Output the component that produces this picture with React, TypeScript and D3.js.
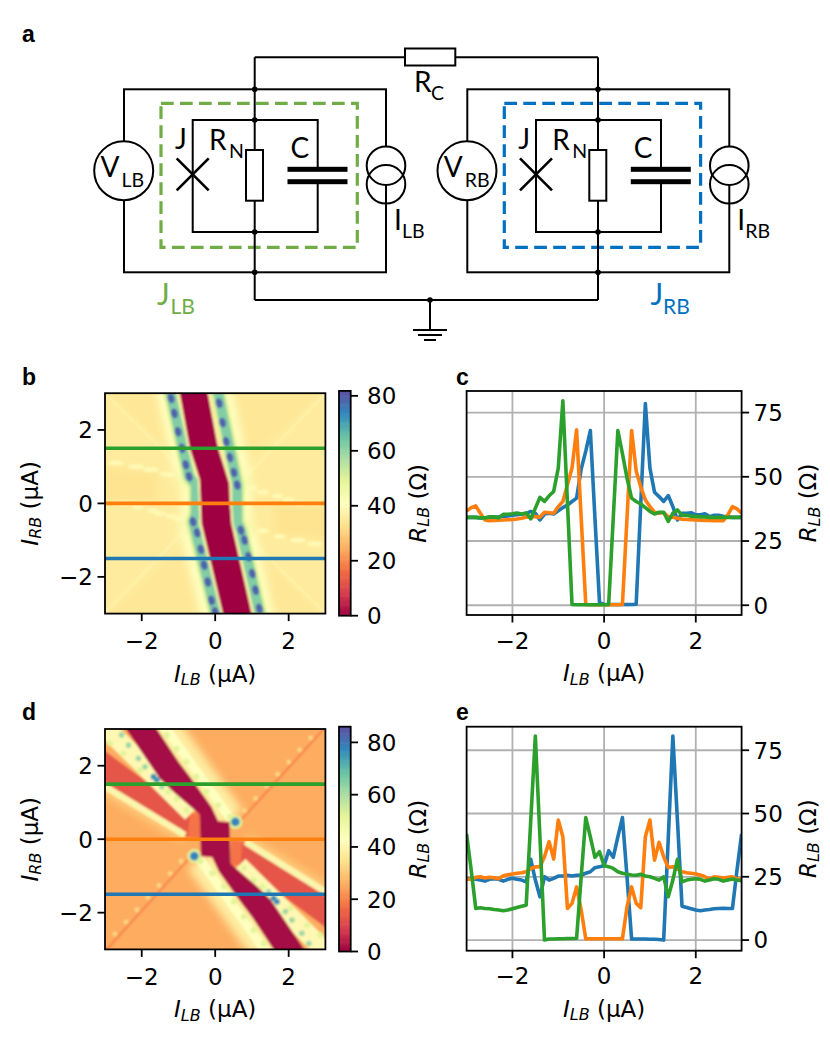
import React from "react";
import * as d3 from "d3";

type Pt = [number, number];

// sweep axis of the line cuts, uA
const sweep = d3.range(61).map((i) => -3 + i * 0.1);
const currentTicks = [-2, 0, 2];
const cutLevels = [
  { level: -1.5, color: "#1f77b4" },
  { level: 0, color: "#ff7f0e" },
  { level: 1.5, color: "#2ca02c" },
];
const cbTicks = [0, 20, 40, 60, 80];
const cutTicks = [0, 25, 50, 75];

// panel c, line cuts at I_RB = -1.5, 0, 1.5
const cutC_blue = [34.2,34.2,34.2,34,34,34.2,34.3,34.4,34.6,34.8,35,35.2,35.4,35.7,36.5,35.8,33.2,35.5,35.8,35.5,36.8,38,39,40.4,41.7,53,60,68,34,1,
  0.3,0.3,0.3,0.3,0.3,0.3,0.3,0.4,39.5,78.5,53.4,44,42.3,40.4,42.7,38.4,33.2,35.8,35.8,36,35.2,35.2,35.6,34.5,35,35,34.6,34.4,34.2,34.2,34.2];
const cutC_orange = [36.7,38,38.7,35.8,33.2,32.9,33,33.1,33.2,33.3,33.4,33.6,33.9,34.3,34.5,34.5,34.3,36.2,36,35.8,38.4,40.4,46.9,53.4,68.3,34,0.3,0.2,0.2,0.2,
  0.2,0.2,0.2,0.2,0.3,34,68,52.3,46,41,38.4,36.2,35.8,36,34.5,34.3,33.9,33.5,33.4,33.3,33.2,33.1,33,33,32.9,32.9,32.9,35.2,38.4,37.5,35.8];
const cutC_green = [34.2,34.2,34.2,34,34,34.4,34.4,34,35.4,35.4,35.6,35.9,35.5,35.9,33.6,37.8,42,40.4,42.6,44.3,53.4,79.6,40,0.3,0.2,0.2,0.2,0.2,0.2,0.2,
  0.2,0.3,34,68,59,49.5,41.7,40.4,39.4,38,36.5,35.5,36.2,36.2,32.6,35.8,37.1,35,35,34.6,34.6,34.4,34.4,34.2,34.2,34.2,34.2,34.2,34.2,34.2,34.2];

// panel e
const cutE_blue = [24,24.2,24,23.7,23.3,24,24.2,24,23.3,24,24.4,24,23.7,23,31.9,23.7,17.1,25,23.7,24.4,25.3,25.3,25.6,25.3,25.6,25.7,26.4,27,28.6,29,
  29.4,35.3,32.7,40.8,48.4,25,0.4,0.4,0.4,0.4,0.3,0.3,0.2,0,40.2,80.6,47.4,13.4,12.9,12.4,11.9,11.6,11.9,12.1,12.4,12.5,12.6,12.5,12.5,27.7,41.9];
const cutE_orange = [24,24,24.8,25,24.5,24.8,24.6,24.2,25.4,25.8,26.1,26.4,26.6,27,28.3,28.9,29,32.9,38.9,32,47.4,40.8,12.5,14.5,21,11.9,0.5,0.5,0.5,0.5,
  0.5,0.5,0.5,0.5,0.5,13.2,21,14.5,12.8,40.8,47.4,31.6,38.6,32.9,28.7,29,28.1,27,26.6,26.4,26.1,25.7,25,24.2,25,24.8,24.5,24.8,25,24.2,24];
const cutE_green = [41.9,27.7,12.5,12.8,12.5,12.4,12.1,11.9,11.6,11.9,12.4,12.9,13.4,13.8,47.4,80.6,40.8,0,0.4,0.4,0.5,0.5,0.6,0.6,0.7,25,48.4,40.8,32.7,34.9,
  29.4,29,28.3,27,26.4,26,25.7,25.6,26,25.3,25,24.4,23.7,25,17.1,23.7,31.9,23,23.7,24,24.2,24,23.3,23.7,24.2,24,23.3,23.7,24.1,23.7,23.4];

// panel b map, region outlines in (I_LB, I_RB)
const everywhere: Pt[] = [[-3.4,3.4],[3.4,3.4],[3.4,-3.4],[-3.4,-3.4]];
const bLeftPatch: Pt[] = [[-3.4,1],[-1.6,0.85],[-1.6,0.05],[-3.4,0.1]];
const bRightPatch: Pt[] = [[1.6,-0.05],[3.4,-0.1],[3.4,-1],[1.6,-0.85]];
const bCornerTop: Pt[] = [[-3.4,3.4],[3.4,3.4],[0.4,0.8],[-0.6,0.8]];
const bCornerBottom: Pt[] = [[-3.4,-3.4],[3.4,-3.4],[0.6,-0.8],[-0.4,-0.8]];
const bDark: Pt[] = [[-1.02,3.3],[-0.69,1.5],[-0.42,0.65],[-0.39,0],[-0.37,-0.55],[0.28,-3.3],[1.06,-3.3],[0.44,-0.55],[0.4,0],[0.38,0.55],[0.08,1.5],[-0.26,3.3]];
const bRidgeLeft: Pt[] = [[-1.28,3.3],[-0.71,0.73],[-0.53,0.5],[-0.53,-0.3],[-0.6,-0.5],[0.09,-3.3]];
const bRidgeRight: Pt[] = [[0.02,3.3],[0.6,0.5],[0.6,-0.5],[0.7,-0.73],[1.28,-3.3]];
const bHaloLeft: Pt[] = [[-1.45,3.3],[-0.9,0.8],[-0.72,0.4],[-0.72,-0.3],[-0.8,-0.6],[-0.12,-3.3]];
const bHaloRight: Pt[] = [[0.2,3.3],[0.8,0.6],[0.78,0.2],[0.78,-0.4],[0.9,-0.8],[1.45,-3.3]];
const bDiagA: Pt[] = [[0.6,0.5],[3.3,3.3]];
const bDiagB: Pt[] = [[-0.6,-0.5],[-3.3,-3.3]];
const bDiagC: Pt[] = [[-0.7,0.73],[-3.3,3.3]];
const bDiagD: Pt[] = [[0.7,-0.73],[3.3,-3.3]];
const bBeads: Pt[] = [[-1.2,2.86],[-1.11,2.45],[-1.01,1.95],[-0.9,1.5],[-0.8,1.05],[-0.71,0.73],[-0.6,-0.5],[-0.49,-0.8],[-0.39,-1.25],[-0.3,-1.68],[-0.2,-2.14],[-0.1,-2.64],[0,-2.95],
  [0.11,2.73],[0.2,2.2],[0.3,1.68],[0.4,1.25],[0.51,0.84],[0.6,0.5],[0.7,-0.73],[0.8,-1],[0.91,-1.45],[1.01,-1.91],[1.1,-2.36],[1.2,-2.86]];
const bTrail: Pt[] = [[-2.75,1.1],[-2.65,1.1],[-2.2,1],[-2.1,1],[-1.8,0.92],[-1.7,0.92],[-1.35,0.8],[-1.25,0.78],
  [-2.5,0],[-2.1,-0.1],[-1.7,-0.2],[-1.5,-0.28],[-1.2,-0.35],[-1,-0.42],
  [1,0.42],[1.3,0.3],[1.7,0.2],[2,0.1],[2.3,0],
  [1.3,-0.75],[1.75,-0.9],[2.2,-1],[2.3,-1],[2.75,-1.1],[2.65,-1.1]];
const bStars: Pt[] = [[0.78,0.55],[-0.78,-0.55],[-0.85,0.6],[0.85,-0.65]];

// panel d map
const dLeftRed: Pt[] = [[-3.3,2.62],[-0.69,0.7],[-0.42,0.68],[-0.42,0.02],[-0.78,0.06],[-3.3,1.65]];
const dRightRed: Pt[] = [[3.3,-2.62],[0.69,-0.7],[0.44,-0.68],[0.44,-0.02],[0.78,-0.06],[3.3,-1.65]];
const dLeftStrip: Pt[] = [[-0.69,0.72],[-0.42,0.72],[-0.42,0.02],[-0.74,0.05]];
const dRightStrip: Pt[] = [[0.69,-0.72],[0.44,-0.72],[0.44,-0.02],[0.74,-0.05]];
const dDark: Pt[] = [[-2.63,3.3],[-2.43,3],[-1.51,1.65],[-1.14,1.29],[-0.42,0.67],[-0.39,-0.46],[-0.08,-0.49],[0.1,-0.88],[0.69,-1.7],[1,-2.11],[1.59,-3],[1.8,-3.3],
  [2.63,-3.3],[2.43,-3],[1.51,-1.65],[1.14,-1.29],[0.42,-0.67],[0.39,0.46],[0.08,0.49],[-0.1,0.88],[-0.69,1.7],[-1,2.11],[-1.59,3],[-1.8,3.3]];
const dBandA: Pt[] = [[-3.2,3.25],[-0.64,0.72]];
const dBandF: Pt[] = [[3.2,-3.25],[0.64,-0.72]];
const dBandB: Pt[] = [[-1.55,3.3],[0.42,0.55]];
const dBandD: Pt[] = [[1.55,-3.3],[-0.42,-0.55]];
const dBandC: Pt[] = [[-3.3,1.62],[-0.82,0.11]];
const dBandE: Pt[] = [[3.3,-1.62],[0.82,-0.07]];
const dThinA: Pt[] = [[0.62,0.43],[3.3,3.38]];
const dThinB: Pt[] = [[-0.62,-0.43],[-3.3,-3.38]];
const dPaleBeads: Pt[] = [[-1.32,2.84],[-1.05,2.47],[-0.78,2.11],[-0.51,1.7],[-0.24,1.29],[0.08,0.93],[0.4,0.61],
  [1.32,-2.84],[1.05,-2.47],[0.78,-2.11],[0.51,-1.7],[0.24,-1.29],[-0.08,-0.93],[-0.4,-0.61],
  [-2.86,2.61],[-2.5,2.34],[-2.05,1.88],[-1.28,1.29],[-1.05,1.11],[-0.78,0.79],
  [2.86,-2.61],[2.5,-2.34],[2.05,-1.88],[1.28,-1.29],[1.05,-1.11],[0.78,-0.79]];
const dTealBeads: Pt[] = [[-2.55,2.84],[-2.36,2.56],[-2.09,2.2],[-1.91,1.97],[-1.45,1.43],
  [2.55,-2.84],[2.36,-2.56],[2.09,-2.2],[1.91,-1.97],[1.45,-1.43]];
const dBlueBeads: Pt[] = [[-1.68,1.7],[-1.59,1.61],[1.59,-1.61],[1.68,-1.7]];
const dBlobs: Pt[] = [[0.55,0.47],[-0.57,-0.46]];
const dDiagBeads: Pt[] = [[0.8,0.78],[1.1,1.11],[1.4,1.44],[1.7,1.77],[2,2.1],[2.3,2.43],[2.6,2.76],
  [-0.93,-0.6],[-1.23,-0.93],[-1.53,-1.26],[-1.83,-1.59],[-2.13,-1.92],[-2.43,-2.25],[-2.73,-2.58]];
const dEdgeBeads: Pt[] = [[-2.6,1.19],[-2.2,0.95],[-1.8,0.7],[-1.4,0.46],[-1,0.22],
  [2.6,-1.18],[2.2,-0.93],[1.8,-0.68],[1.4,-0.43],[1,-0.18]];

const spectral = d3.piecewise(d3.interpolateRgb, d3.schemeSpectral[11]);
const mathFont = "DejaVu Sans";
const ink = "#000";
const axisW = 1.8;
const FS = 23;

function SubLabel({ main, sub, tail, x, y, rotate, anchor = "middle" }: { main: string; sub: string; tail: string; x: number; y: number; rotate?: boolean; anchor?: string }) {
  return (
    <text x={x} y={y} fontFamily={mathFont} fontSize={FS} textAnchor={anchor} fill={ink}
      transform={rotate ? `rotate(-90 ${x} ${y})` : undefined}>
      <tspan fontStyle="italic">{main}</tspan>
      <tspan fontStyle="italic" fontSize={16} dy={3.5}>{sub}</tspan>
      <tspan dy={-3.5}>{" " + tail}</tspan>
    </text>
  );
}

function fmt(v: number) {
  return v < 0 ? `\u2212${Math.abs(v)}` : `${v}`;
}

function MapPanel({ top, rMax, id, children }: { top: number; rMax: number; id: string; children: (x: d3.ScaleLinear<number, number>, y: d3.ScaleLinear<number, number>, c: (r: number) => string) => React.ReactNode }) {
  const left = 105;
  const size = 220.4;
  const x = d3.scaleLinear().domain([-3, 3]).range([left, left + size]);
  const y = d3.scaleLinear().domain([-3, 3]).range([top + size, top]);
  const color = (r: number) => spectral(r / rMax);
  const cbY = d3.scaleLinear().domain([0, rMax]).range([top + 222.5, top - 2.3]);
  const cbSteps = d3.range(0, rMax, rMax / 200);
  return (
    <g>
      <clipPath id={id}><rect x={left} y={top} width={size} height={size} /></clipPath>
      <g clipPath={`url(#${id})`}>
        <g filter="url(#soft)">{children(x, y, color)}</g>
        {cutLevels.map((c) => (
          <line key={c.level} x1={left} x2={left + size} y1={y(c.level)} y2={y(c.level)} stroke={c.color} strokeWidth={3.6} />
        ))}
      </g>
      <rect x={left} y={top} width={size} height={size} fill="none" stroke={ink} strokeWidth={axisW} />
      {currentTicks.map((t) => (
        <g key={t}>
          <line x1={x(t)} x2={x(t)} y1={top + size} y2={top + size + 7.5} stroke={ink} strokeWidth={axisW} />
          <text x={x(t)} y={top + size + 35.5} textAnchor="middle" fontFamily={mathFont} fontSize={FS}>{fmt(t)}</text>
          <line x1={left - 7.5} x2={left} y1={y(t)} y2={y(t)} stroke={ink} strokeWidth={axisW} />
          <text x={left - 12} y={y(t) + 8.3} textAnchor="end" fontFamily={mathFont} fontSize={FS}>{fmt(t)}</text>
        </g>
      ))}
      <SubLabel main="I" sub="LB" tail="(µA)" x={left + size / 2} y={top + size + 68} />
      <SubLabel main="I" sub="RB" tail="(µA)" x={38} y={top + size / 2} rotate />
      {cbSteps.map((r) => (
        <rect key={r} x={339} width={11.7} y={cbY(r + rMax / 200) - 0.3} height={cbY(r) - cbY(r + rMax / 200) + 0.6} fill={color(r + rMax / 400)} />
      ))}
      <rect x={339} width={11.7} y={cbY(rMax)} height={cbY(0) - cbY(rMax)} fill="none" stroke={ink} strokeWidth={axisW} />
      {cbTicks.map((t) => (
        <g key={t}>
          <line x1={350.7} x2={358} y1={cbY(t)} y2={cbY(t)} stroke={ink} strokeWidth={axisW} />
          <text x={367} y={cbY(t) + 8.3} fontFamily={mathFont} fontSize={FS}>{t}</text>
        </g>
      ))}
      <SubLabel main="R" sub="LB" tail="(Ω)" x={426} y={top + size / 2} rotate />
    </g>
  );
}

function PanelB(x: d3.ScaleLinear<number, number>, y: d3.ScaleLinear<number, number>, c: (r: number) => string) {
  const path = d3.line<Pt>().x((d) => x(d[0])).y((d) => y(d[1]));
  const fills: [Pt[], number][] = [[everywhere, 35.6], [bCornerTop, 34.6], [bCornerBottom, 34.6], [bLeftPatch, 33.5], [bRightPatch, 33.5]];
  return (
    <>
      <g filter="url(#wide)">{fills.map(([pts, r], i) => <path key={i} d={path(pts) + "Z"} fill={c(r)} />)}</g>
      {[bDiagA, bDiagB, bDiagC, bDiagD].map((pts, i) => <path key={i} d={path(pts) || ""} fill="none" stroke={c(37.5)} strokeWidth={2.5} />)}
      {bTrail.map((p, i) => <ellipse key={i} cx={x(p[0])} cy={y(p[1])} rx={6} ry={2.6} fill={c(39)} />)}
      <g filter="url(#wide)">
        {[bHaloLeft, bHaloRight].map((pts, i) => <path key={i} d={path(pts) || ""} fill="none" stroke={c(41)} strokeWidth={15} strokeLinejoin="round" />)}
        {bStars.map((p, i) => <circle key={i} cx={x(p[0])} cy={y(p[1])} r={8} fill={c(44)} />)}
      </g>
      {[bRidgeLeft, bRidgeRight].map((pts, i) => <path key={i} d={path(pts) || ""} fill="none" stroke={c(50)} strokeWidth={15} strokeLinejoin="round" />)}
      {[bRidgeLeft, bRidgeRight].map((pts, i) => <path key={i} d={path(pts) || ""} fill="none" stroke={c(62)} strokeWidth={10} strokeLinejoin="round" />)}
      {bBeads.map((p, i) => <ellipse key={i} cx={x(p[0])} cy={y(p[1])} rx={3.4} ry={5} fill={c(79)} transform={`rotate(-15 ${x(p[0])} ${y(p[1])})`} />)}
      <path d={path(bDark) + "Z"} fill={c(0)} stroke={c(38)} strokeWidth={4} strokeLinejoin="round" />
      <path d={path(bDark) + "Z"} fill={c(0)} />
    </>
  );
}

function PanelD(x: d3.ScaleLinear<number, number>, y: d3.ScaleLinear<number, number>, c: (r: number) => string) {
  const path = d3.line<Pt>().x((d) => x(d[0])).y((d) => y(d[1]));
  return (
    <>
      <path d={path(everywhere) + "Z"} fill={c(25.5)} />
      <g filter="url(#wide)">
        {[dBandB, dBandD].map((pts, i) => <path key={i} d={path(pts) || ""} fill="none" stroke={c(38)} strokeWidth={30} />)}
        {[dBandC, dBandE].map((pts, i) => <path key={i} d={path(pts) || ""} fill="none" stroke={c(31)} strokeWidth={16} />)}
      </g>
      {[dBandB, dBandD].map((pts, i) => <path key={i} d={path(pts) || ""} fill="none" stroke={c(43)} strokeWidth={9} />)}
      {[dLeftRed, dRightRed].map((pts, i) => <path key={i} d={path(pts) + "Z"} fill={c(13)} />)}
      {[dLeftStrip, dRightStrip].map((pts, i) => <path key={i} d={path(pts) + "Z"} fill={c(18)} />)}
      {[dBandC, dBandE].map((pts, i) => <path key={i} d={path(pts) || ""} fill="none" stroke={c(40)} strokeWidth={6.5} />)}
      {[dBandA, dBandF].map((pts, i) => <path key={i} d={path(pts) || ""} fill="none" stroke={c(41)} strokeWidth={19} />)}
      {[dThinA, dThinB].map((pts, i) => <path key={i} d={path(pts) || ""} fill="none" stroke={c(19)} strokeWidth={1.8} />)}
      {dDiagBeads.map((p, i) => <circle key={i} cx={x(p[0])} cy={y(p[1])} r={2.4} fill={c(33)} />)}
      {dEdgeBeads.map((p, i) => <circle key={i} cx={x(p[0])} cy={y(p[1])} r={3} fill={c(47)} />)}
      {dPaleBeads.map((p, i) => <circle key={i} cx={x(p[0])} cy={y(p[1])} r={3} fill={c(52)} />)}
      {dTealBeads.map((p, i) => <circle key={i} cx={x(p[0])} cy={y(p[1])} r={2.8} fill={c(62)} />)}
      {dBlueBeads.map((p, i) => <circle key={i} cx={x(p[0])} cy={y(p[1])} r={3} fill={c(76)} />)}
      {dBlobs.map((p, i) => <circle key={i} cx={x(p[0])} cy={y(p[1])} r={7} fill={c(52)} />)}
      {dBlobs.map((p, i) => <circle key={i} cx={x(p[0])} cy={y(p[1])} r={4.4} fill={c(78)} />)}
      <path d={path(dDark) + "Z"} fill={c(1)} />
    </>
  );
}

function CutPanel({ top, height, domain, blue, orange, green, id }: { top: number; height: number; domain: [number, number]; blue: number[]; orange: number[]; green: number[]; id: string }) {
  const left = 466.6;
  const width = 275;
  const x = d3.scaleLinear().domain([-3, 3]).range([left, left + width]);
  const y = d3.scaleLinear().domain(domain).range([top + height, top]);
  const line = d3.line<number>().x((_, i) => x(sweep[i])).y((d) => y(d));
  const series: [number[], string][] = [[blue, "#1f77b4"], [orange, "#ff7f0e"], [green, "#2ca02c"]];
  return (
    <g>
      <clipPath id={id}><rect x={left} y={top} width={width} height={height} /></clipPath>
      {currentTicks.map((t) => <line key={t} x1={x(t)} x2={x(t)} y1={top} y2={top + height} stroke="#b0b0b0" strokeWidth={1.8} />)}
      {cutTicks.map((t) => <line key={t} x1={left} x2={left + width} y1={y(t)} y2={y(t)} stroke="#b0b0b0" strokeWidth={1.8} />)}
      <g clipPath={`url(#${id})`}>
        {series.map(([vals, col]) => <path key={col} d={line(vals) || ""} fill="none" stroke={col} strokeWidth={3.6} strokeLinejoin="round" />)}
      </g>
      <rect x={left} y={top} width={width} height={height} fill="none" stroke={ink} strokeWidth={axisW} />
      {currentTicks.map((t) => (
        <g key={t}>
          <line x1={x(t)} x2={x(t)} y1={top + height} y2={top + height + 7.5} stroke={ink} strokeWidth={axisW} />
          <text x={x(t)} y={top + height + 33.5} textAnchor="middle" fontFamily={mathFont} fontSize={FS}>{fmt(t)}</text>
        </g>
      ))}
      {cutTicks.map((t) => (
        <g key={t}>
          <line x1={left + width} x2={left + width + 7.5} y1={y(t)} y2={y(t)} stroke={ink} strokeWidth={axisW} />
          <text x={left + width + 12} y={y(t) + 8.3} fontFamily={mathFont} fontSize={FS}>{t}</text>
        </g>
      ))}
      <SubLabel main="I" sub="LB" tail="(µA)" x={left + width / 2} y={top + height + 66} />
      <SubLabel main="R" sub="LB" tail="(Ω)" x={816} y={top + height / 2} rotate />
    </g>
  );
}

// one half of the circuit, drawn at the left half's position and moved by dx
function Junction({ dx, sub, dashColor }: { dx: number; sub: string; dashColor: string }) {
  const schematicFont = "Lato";
  const wire = { stroke: ink, strokeWidth: 2, fill: "none" };
  return (
    <g transform={`translate(${dx},0)`}>
      <rect x={124} y={89.3} width={262} height={183} {...wire} />
      <rect x={161} y={103.3} width={196.3} height={144} fill="none" stroke={dashColor} strokeWidth={3.2} strokeDasharray="12.7 6.3" />
      <rect x={192.7} y={120} width={125} height={112} {...wire} />
      <line x1={254.7} x2={254.7} y1={57.3} y2={300} {...wire} />
      <rect x={246} y={150} width={17} height={50.7} fill="#fff" stroke={ink} strokeWidth={2} />
      <rect x={287.5} y={171} width={60} height={9} fill="#fff" />
      <rect x={287.5} y={166.8} width={60} height={5} fill={ink} />
      <rect x={287.5} y={179.2} width={60} height={5} fill={ink} />
      <line x1={176.7} x2={208.7} y1={158.3} y2={190.3} stroke={ink} strokeWidth={2.6} />
      <line x1={176.7} x2={208.7} y1={190.3} y2={158.3} stroke={ink} strokeWidth={2.6} />
      <circle cx={123.7} cy={170.7} r={29.5} fill="#fff" stroke={ink} strokeWidth={2} />
      <circle cx={386} cy={165.7} r={19.3} fill="#fff" stroke={ink} strokeWidth={2} />
      <circle cx={386} cy={184.3} r={19.3} fill="none" stroke={ink} strokeWidth={2} />
      {[89.3, 120, 232, 272.3].map((cy) => <circle key={cy} cx={254.7} cy={cy} r={2.8} fill={ink} />)}
      <g fontFamily={schematicFont} fill={ink}>
        <text x={100.5} y={177} fontSize={28}>V</text>
        <text x={121.5} y={187} fontSize={19.5}>{sub}</text>
        <text x={175} y={149} fontSize={28}>J</text>
        <text x={209} y={150} fontSize={28}>R</text>
        <text x={229} y={158} fontSize={19.5}>N</text>
        <text x={290.5} y={158} fontSize={28}>C</text>
        <text x={394} y={230} fontSize={28}>I</text>
        <text x={402} y={238} fontSize={19.5}>{sub}</text>
      </g>
    </g>
  );
}

function Schematic() {
  const wire = { stroke: ink, strokeWidth: 2, fill: "none" };
  const schematicFont = "Lato";
  return (
    <g>
      <line x1={254.7} x2={598} y1={57.3} y2={57.3} {...wire} />
      <line x1={254.7} x2={598} y1={300} y2={300} {...wire} />
      <Junction dx={0} sub="LB" dashColor="#70ad47" />
      <Junction dx={343.3} sub="RB" dashColor="#0070c0" />
      <rect x={405} y={48.5} width={50.3} height={17} fill="#fff" stroke={ink} strokeWidth={2} />
      <circle cx={430} cy={300} r={2.8} fill={ink} />
      <line x1={430} x2={430} y1={300} y2={330} {...wire} />
      <line x1={413} x2={447} y1={330} y2={330} {...wire} />
      <line x1={418} x2={442} y1={335} y2={335} {...wire} />
      <line x1={424} x2={436} y1={340} y2={340} {...wire} />
      <g fontFamily={schematicFont}>
        <text x={414} y={92} fontSize={28}>R</text>
        <text x={431} y={100} fontSize={19.5}>C</text>
        <text x={157} y={305} fontSize={30} fill="#70ad47">J</text>
        <text x={170.5} y={314} fontSize={21} fill="#70ad47">LB</text>
        <text x={650.5} y={305} fontSize={30} fill="#0070c0">J</text>
        <text x={663} y={314} fontSize={21} fill="#0070c0">RB</text>
      </g>
    </g>
  );
}

export default function App() {
  const letters: [string, number, number][] = [["a", 22, 42], ["b", 22, 385], ["c", 456, 385], ["d", 22, 720], ["e", 456, 720]];
  return (
    <svg width={830} height={1050} style={{ position: "absolute", left: 0, top: 0, background: "#fff" }}>
      <defs>
        <filter id="soft" x="-10%" y="-10%" width="120%" height="120%">
          <feGaussianBlur stdDeviation="0.9" />
        </filter>
        <filter id="wide" x="-20%" y="-20%" width="140%" height="140%">
          <feGaussianBlur stdDeviation="4" />
        </filter>
      </defs>
      <Schematic />
      <MapPanel top={393.2} rMax={81.8} id="mapB">{PanelB}</MapPanel>
      <MapPanel top={729} rMax={86} id="mapD">{PanelD}</MapPanel>
      <CutPanel top={391} height={224} domain={[-3.8, 83.4]} blue={cutC_blue} orange={cutC_orange} green={cutC_green} id="cutC" />
      <CutPanel top={726.7} height={224} domain={[-4.2, 84.3]} blue={cutE_blue} orange={cutE_orange} green={cutE_green} id="cutE" />
      {letters.map(([l, x, y]) => (
        <text key={l} x={x} y={y} fontFamily="Liberation Sans" fontWeight="bold" fontSize={23}>{l}</text>
      ))}
    </svg>
  );
}
